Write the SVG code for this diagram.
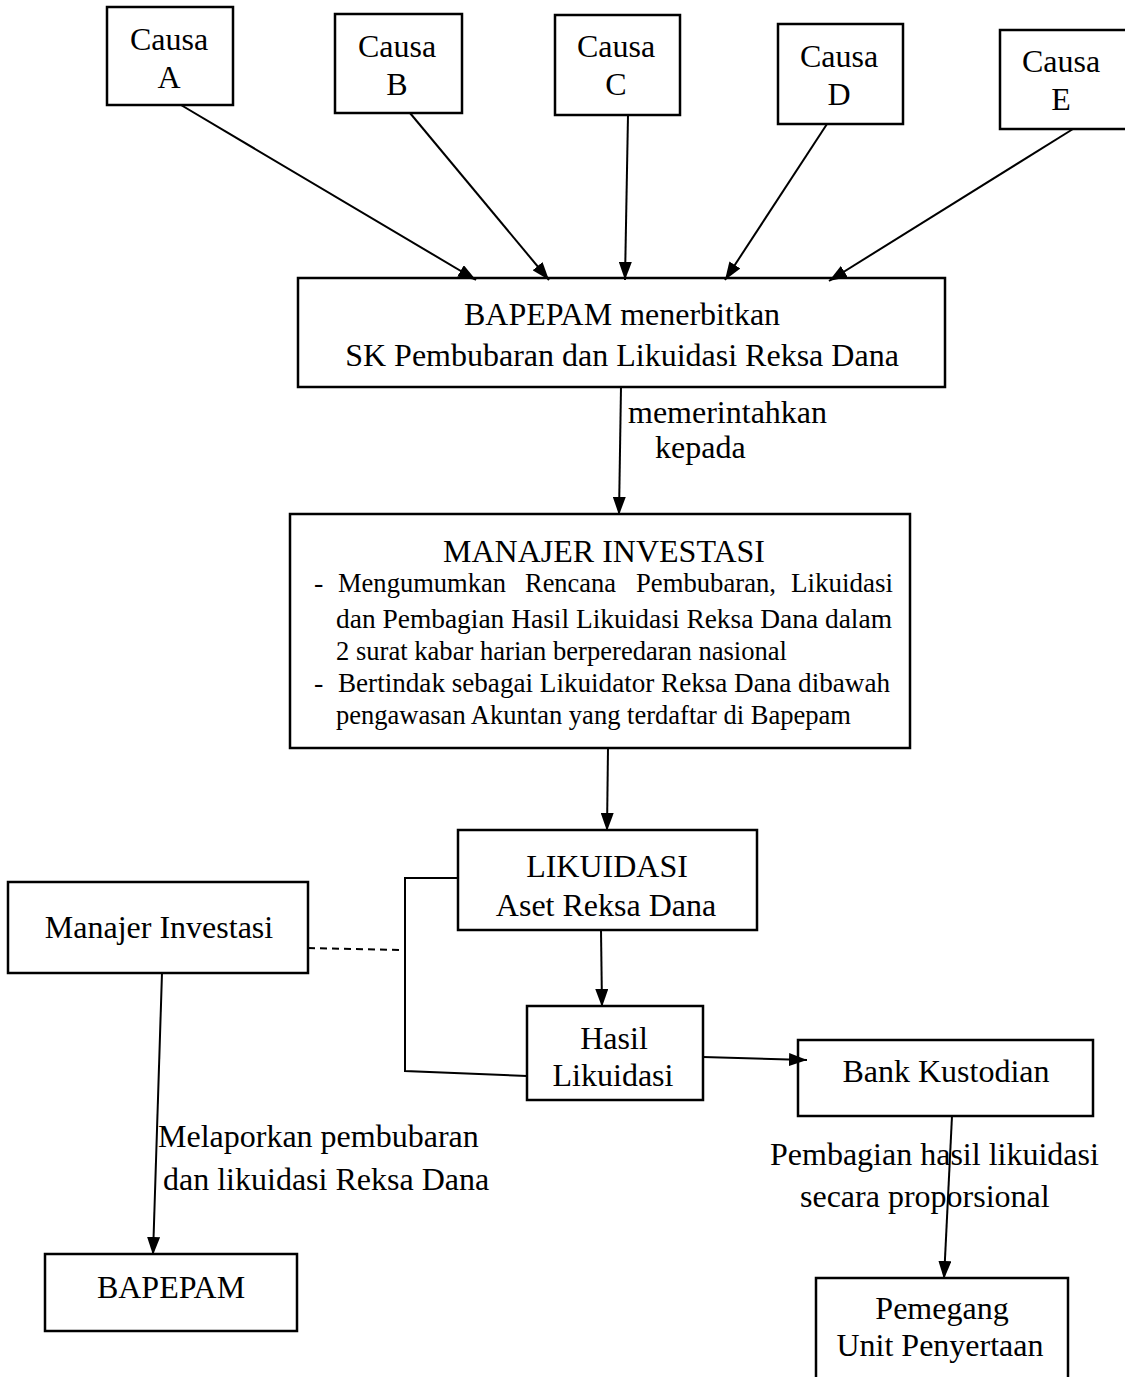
<svg xmlns="http://www.w3.org/2000/svg" width="1125" height="1377" viewBox="0 0 1125 1377">
<defs>
<marker id="arr" viewBox="0 0 18 13" refX="18" refY="6.5" markerWidth="18" markerHeight="13" markerUnits="userSpaceOnUse" orient="auto">
<path d="M0,0 L18,6.5 L0,13 z" fill="#000"/>
</marker>
</defs>
<style>
.box{fill:#fff;stroke:#000;stroke-width:2.5}
text{font-family:"Liberation Serif","Times New Roman",serif;fill:#000}
.t{font-size:32px;text-anchor:middle}
.s{font-size:28px}
.l{font-size:32px}
.c{stroke:#000;stroke-width:2;fill:none}
.a{marker-end:url(#arr)}
</style>
<rect width="1125" height="1377" fill="#fff"/>
<g id="causa-a"><rect class="box" x="107" y="7" width="126" height="98"/><text class="t" x="169" y="50">Causa</text><text class="t" x="169" y="88">A</text></g>
<g id="causa-b"><rect class="box" x="335" y="14" width="127" height="99"/><text class="t" x="397" y="57">Causa</text><text class="t" x="397" y="95">B</text></g>
<g id="causa-c"><rect class="box" x="555" y="15" width="125" height="100"/><text class="t" x="616" y="57">Causa</text><text class="t" x="616" y="95">C</text></g>
<g id="causa-d"><rect class="box" x="778" y="24" width="125" height="100"/><text class="t" x="839" y="67">Causa</text><text class="t" x="839" y="105">D</text></g>
<g id="causa-e"><rect class="box" x="1000" y="30" width="128" height="99"/><text class="t" x="1061" y="72">Causa</text><text class="t" x="1061" y="110">E</text></g>
<g id="bapepam-sk"><rect class="box" x="298" y="278" width="647" height="109"/><text class="t" x="622" y="325">BAPEPAM menerbitkan</text><text class="t" x="622" y="366">SK Pembubaran dan Likuidasi Reksa Dana</text></g>
<g id="manajer-investasi-main"><rect class="box" x="290" y="514" width="620" height="234"/>
<text class="t" x="604" y="562">MANAJER INVESTASI</text>
<text class="s" x="314" y="592">-</text>
<text class="s" x="338" y="592" textLength="168" lengthAdjust="spacingAndGlyphs">Mengumumkan</text>
<text class="s" x="525" y="592" textLength="91" lengthAdjust="spacingAndGlyphs">Rencana</text>
<text class="s" x="636" y="592" textLength="140" lengthAdjust="spacingAndGlyphs">Pembubaran,</text>
<text class="s" x="791" y="592" textLength="102" lengthAdjust="spacingAndGlyphs">Likuidasi</text>
<text class="s" x="336" y="628" textLength="556" lengthAdjust="spacingAndGlyphs">dan Pembagian Hasil Likuidasi Reksa Dana dalam</text>
<text class="s" x="336" y="660" textLength="451" lengthAdjust="spacingAndGlyphs">2 surat kabar harian berperedaran nasional</text>
<text class="s" x="314" y="692">-</text>
<text class="s" x="338" y="692" textLength="552" lengthAdjust="spacingAndGlyphs">Bertindak sebagai Likuidator Reksa Dana dibawah</text>
<text class="s" x="336" y="724" textLength="515" lengthAdjust="spacingAndGlyphs">pengawasan Akuntan yang terdaftar di Bapepam</text>
</g>
<g id="likuidasi"><rect class="box" x="458" y="830" width="299" height="100"/><text class="t" x="607" y="877">LIKUIDASI</text><text class="t" x="606" y="916">Aset Reksa Dana</text></g>
<g id="manajer-investasi"><rect class="box" x="8" y="882" width="300" height="91"/><text class="t" x="159" y="938">Manajer Investasi</text></g>
<g id="hasil-likuidasi"><rect class="box" x="527" y="1006" width="176" height="94"/><text class="t" x="614" y="1049">Hasil</text><text class="t" x="613" y="1086">Likuidasi</text></g>
<g id="bank-kustodian"><rect class="box" x="798" y="1040" width="295" height="76"/><text class="t" x="946" y="1082">Bank Kustodian</text></g>
<g id="bapepam"><rect class="box" x="45" y="1254" width="252" height="77"/><text class="t" x="171" y="1298">BAPEPAM</text></g>
<g id="pemegang"><rect class="box" x="816" y="1278" width="252" height="102"/><text class="t" x="942" y="1319">Pemegang</text><text class="t" x="940" y="1356">Unit Penyertaan</text></g>
<g id="connectors">
<line class="c a" x1="181" y1="105" x2="476" y2="280"/>
<line class="c a" x1="410" y1="113" x2="549" y2="280"/>
<line class="c a" x1="628" y1="115" x2="625" y2="280"/>
<line class="c a" x1="827" y1="124" x2="725" y2="280"/>
<line class="c a" x1="1073" y1="129" x2="829" y2="281"/>
<line class="c a" x1="621" y1="387" x2="619" y2="515"/>
<line class="c a" x1="608" y1="748" x2="607" y2="831"/>
<line class="c a" x1="601" y1="930" x2="602" y2="1007"/>
<polyline class="c" points="458,878 405,878 405,1071 527,1076"/>
<line class="c" x1="308" y1="948" x2="405" y2="950" stroke-dasharray="7,5"/>
<line class="c a" x1="703" y1="1057" x2="807" y2="1060"/>
<line class="c a" x1="162" y1="973" x2="153" y2="1255"/>
<line class="c a" x1="952" y1="1116" x2="944" y2="1279"/>
<text class="l" x="628" y="423">memerintahkan</text>
<text class="l" x="655" y="458">kepada</text>
<text class="l" x="158" y="1147">Melaporkan pembubaran</text>
<text class="l" x="163" y="1190">dan likuidasi Reksa Dana</text>
<text class="l" x="770" y="1165">Pembagian hasil likuidasi</text>
<text class="l" x="800" y="1207">secara proporsional</text>
</g>
</svg>
